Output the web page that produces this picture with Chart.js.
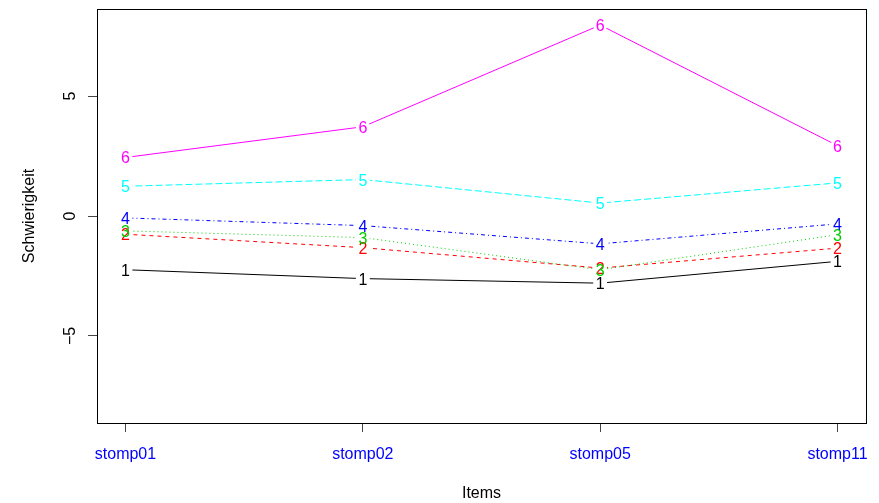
<!DOCTYPE html>
<html>
<head>
<meta charset="utf-8">
<script src="https://cdn.jsdelivr.net/npm/chart.js@4.4.0/dist/chart.umd.min.js"></script>
<style>
  html, body { margin: 0; padding: 0; background: #fff; }
</style>
</head>
<body>
<canvas id="itemChart" width="879" height="503"></canvas>
<script>
// items on the x axis
const items = ['stomp01', 'stomp02', 'stomp05', 'stomp11'];
const yTicks = [-5, 0, 5];

// difficulty per group
const group1 = [-2.24, -2.61, -2.80, -1.89];
const group2 = [-0.76, -1.32, -2.17, -1.34];
const group3 = [-0.62, -0.90, -2.24, -0.78];
const group4 = [-0.08, -0.40, -1.16, -0.33];
const group5 = [1.24, 1.52, 0.54, 1.38];
const group6 = [2.44, 3.72, 7.96, 2.93];

const groups = [group1, group2, group3, group4, group5, group6];
const groupNames = ['1', '2', '3', '4', '5', '6'];

const colors = ['#000000', '#FF0000', '#00CD00', '#0000FF', '#00FFFF', '#FF00FF'];
const dashes = [[], [4, 4], [1, 3], [1, 3, 4, 3], [7, 3], []];
const FONT = '"Liberation Sans", Arial, Helvetica, sans-serif';

// R type="b": lines stop short of the point, the point is the group number
const digitPoints = {
    id: 'digitPoints',
    beforeDatasetDraw(chart, args) {
        const ctx = chart.ctx;
        const gap = 7;
        ctx.save();
        ctx.beginPath();
        ctx.rect(0, 0, chart.width, chart.height);
        args.meta.data.forEach(pt => {
            ctx.moveTo(pt.x + gap, pt.y);
            ctx.arc(pt.x, pt.y, gap, 0, Math.PI * 2);
        });
        ctx.clip('evenodd');
    },
    afterDatasetDraw(chart, args) {
        const ctx = chart.ctx;
        ctx.restore();
        const ds = chart.data.datasets[args.index];
        ctx.save();
        ctx.font = '16px ' + FONT;
        ctx.fillStyle = ds.borderColor;
        ctx.textAlign = 'center';
        ctx.textBaseline = 'alphabetic';
        args.meta.data.forEach(pt => ctx.fillText(ds.label, pt.x, pt.y + 6));
        ctx.restore();
    }
};

const plotBox = {
    id: 'plotBox',
    afterDraw(chart) {
        const a = chart.chartArea;
        const ctx = chart.ctx;
        ctx.save();
        ctx.strokeStyle = '#000';
        ctx.lineWidth = 1;
        ctx.strokeRect(Math.round(a.left) + 0.5, Math.round(a.top) + 0.5,
            Math.round(a.right - a.left), Math.round(a.bottom - a.top));
        ctx.restore();
    }
};

new Chart(document.getElementById('itemChart'), {
    type: 'line',
    data: {
        datasets: groups.map((vals, i) => ({
            label: groupNames[i],
            data: vals.map((v, j) => ({ x: j, y: v })),
            borderColor: colors[i],
            borderWidth: 1,
            borderDash: dashes[i],
            fill: false,
            tension: 0,
            pointRadius: 0,
            pointHoverRadius: 0,
            order: groups.length - i
        }))
    },
    options: {
        responsive: false,
        animation: false,
        devicePixelRatio: 1,
        layout: { padding: { top: 9, right: 13, left: 0, bottom: 0 } },
        plugins: { legend: { display: false }, tooltip: { enabled: false } },
        scales: {
            x: {
                type: 'linear',
                min: -0.12,
                max: 3.12,
                afterBuildTicks: axis => { axis.ticks = items.map((_, i) => ({ value: i })); },
                afterFit: scale => {
                    scale.height = 80;
                    scale.paddingLeft = 0;
                    scale.paddingRight = 0;
                },
                ticks: {
                    autoSkip: false,
                    maxRotation: 0,
                    padding: 13,
                    color: '#0000FF',
                    font: { family: FONT, size: 16 },
                    callback: v => items[v]
                },
                grid: { drawOnChartArea: false, drawTicks: true, tickLength: 9, color: '#444' },
                border: { display: false },
                title: {
                    display: true,
                    text: 'Items',
                    color: '#000',
                    font: { family: FONT, size: 16 },
                    padding: { top: 0, bottom: 0 }
                }
            },
            y: {
                min: -8.63,
                max: 8.63,
                afterBuildTicks: axis => { axis.ticks = yTicks.map(v => ({ value: v })); },
                afterFit: scale => {
                    scale.width = 97;
                    scale.paddingTop = 0;
                    scale.paddingBottom = 0;
                },
                ticks: {
                    minRotation: 90,
                    maxRotation: 90,
                    crossAlign: 'center',
                    padding: 8,
                    color: '#000',
                    font: { family: FONT, size: 16 },
                    callback: v => (v < 0 ? '\u2212' + Math.abs(v) : String(v))
                },
                grid: { drawOnChartArea: false, drawTicks: true, tickLength: 9, color: '#444' },
                border: { display: false },
                title: {
                    display: true,
                    text: 'Schwierigkeit',
                    color: '#000',
                    font: { family: FONT, size: 16 },
                    padding: { top: 20, bottom: 0 }
                }
            }
        }
    },
    plugins: [digitPoints, plotBox]
});
</script>
</body>
</html>
